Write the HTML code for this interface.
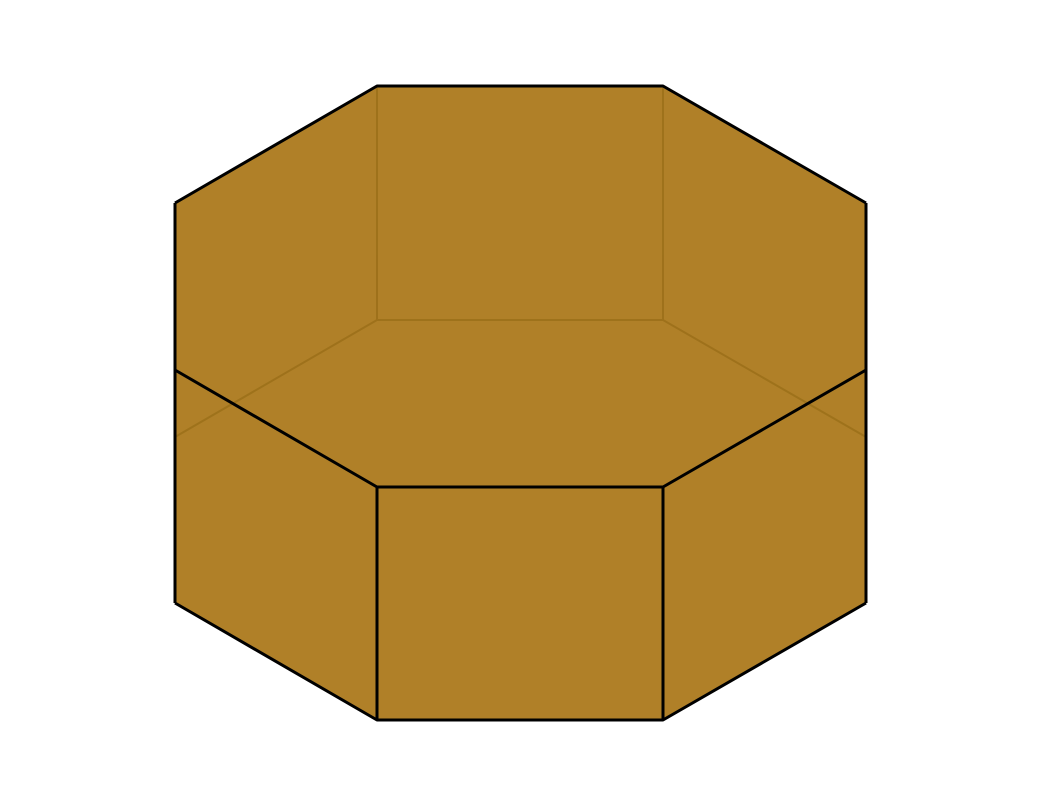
<!DOCTYPE html>
<html>
<head>
<meta charset="utf-8">
<style>
html,body{margin:0;padding:0;background:#fff;width:1040px;height:807px;overflow:hidden;}
svg{display:block;}
</style>
</head>
<body>
<svg width="1040" height="807" viewBox="0 0 1040 807">
  <!-- body fill -->
  <polygon
    points="175,203 377,86 663,86 866,203 866,603 663,720 377,720 175,603"
    fill="#b08028" stroke="none"/>
  <!-- hidden / inner edges -->
  <g stroke="#9a6e18" stroke-width="2" fill="none" opacity="0.8">
    <line x1="377" y1="86" x2="377" y2="320"/>
    <line x1="663" y1="86" x2="663" y2="320"/>
    <line x1="377" y1="320" x2="663" y2="320"/>
    <line x1="377" y1="320" x2="175" y2="437"/>
    <line x1="663" y1="320" x2="866" y2="437"/>
  </g>
  <!-- visible edges -->
  <g stroke="#000" stroke-width="3" fill="none" stroke-linejoin="round">
    <polyline points="175,203 377,86 663,86 866,203"/>
    <line x1="175" y1="203" x2="175" y2="603"/>
    <line x1="866" y1="203" x2="866" y2="603"/>
    <polyline points="175,603 377,720 663,720 866,603"/>
    <polyline points="175,370 377,487 663,487 866,370"/>
    <line x1="377" y1="487" x2="377" y2="720"/>
    <line x1="663" y1="487" x2="663" y2="720"/>
  </g>
</svg>
</body>
</html>
